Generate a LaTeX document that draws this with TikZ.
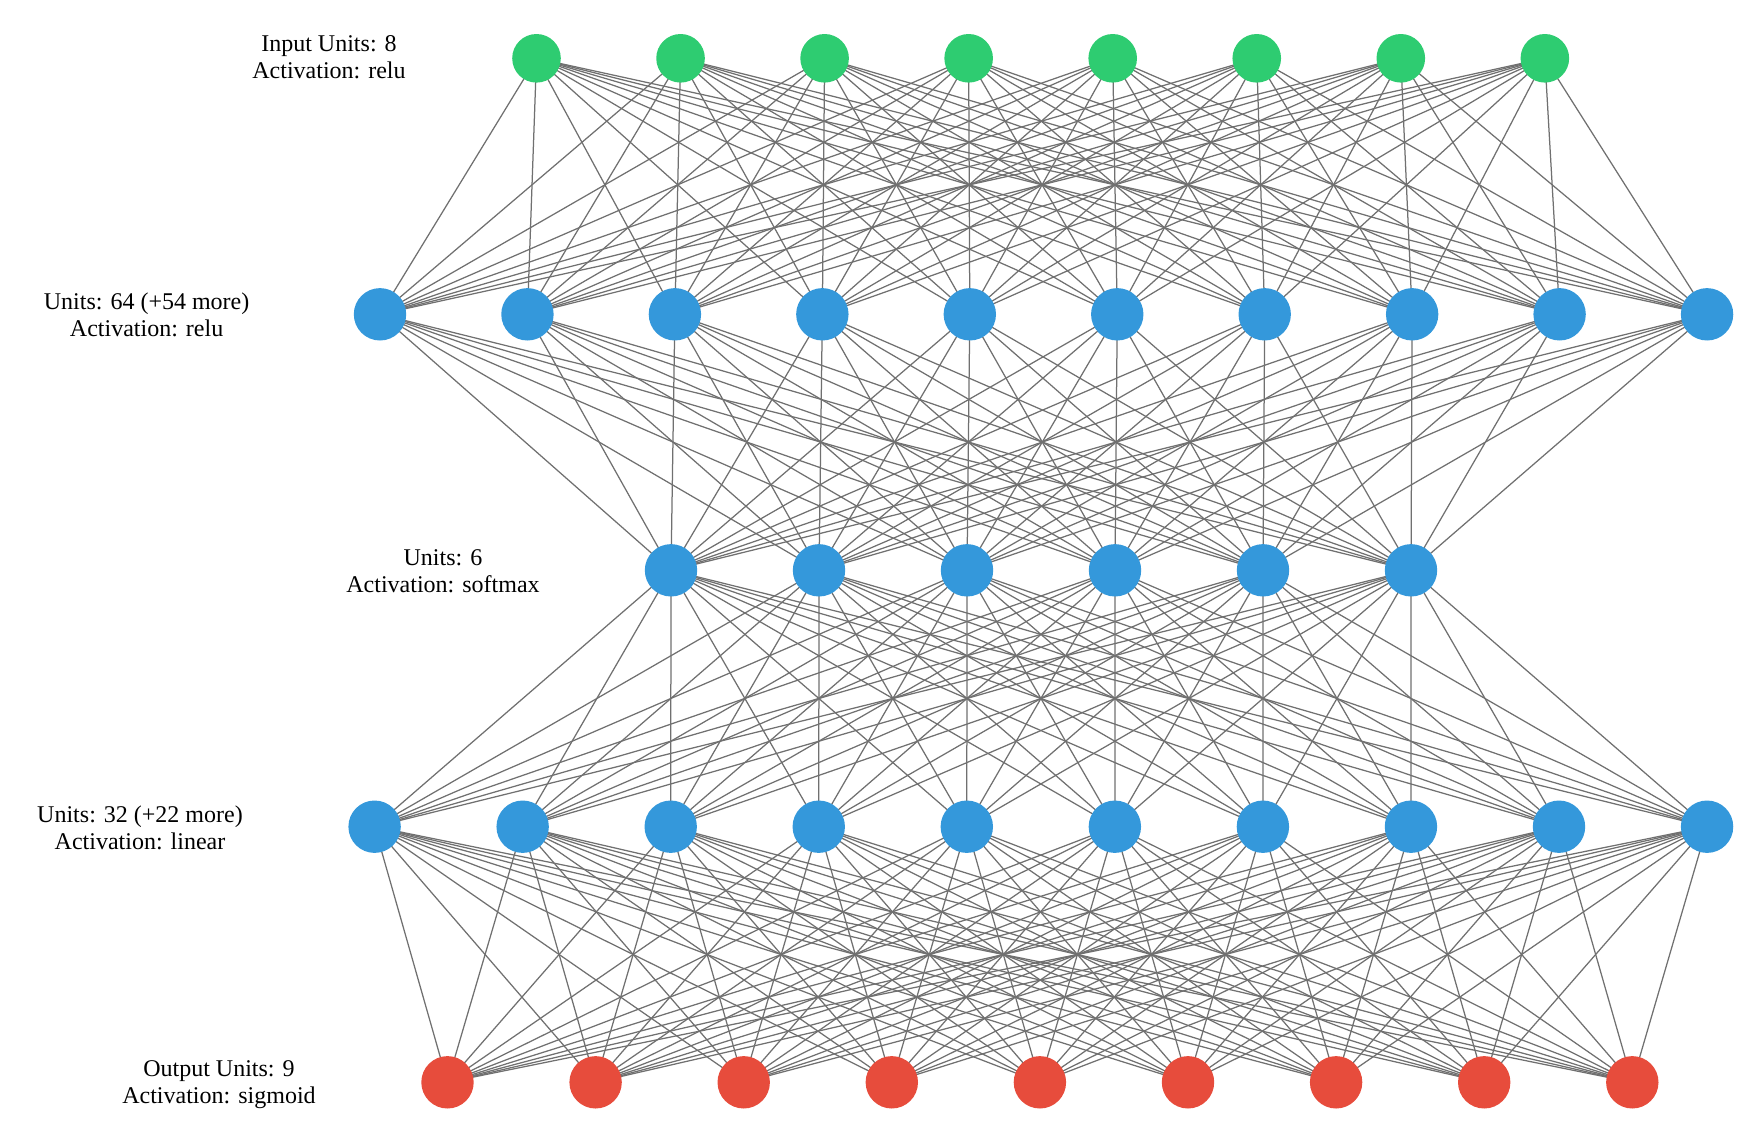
\documentclass[tikz,border=0pt]{standalone}
\usepackage{fontspec}
\setmainfont{Liberation Serif}
\usetikzlibrary{backgrounds}

\definecolor{inpgreen}{HTML}{2ECC71}
\definecolor{hidblue}{HTML}{3498DB}
\definecolor{outred}{HTML}{E74C3C}
\definecolor{linkgray}{RGB}{112,112,112}

\begin{document}
\begin{tikzpicture}[x=1pt,y=-1pt,
    unit/.style={circle,inner sep=0pt,minimum size=52.4pt},
    link/.style={draw=linkgray,line width=1.25pt},
    layerlabel/.style={align=center,font=\fontsize{24}{27}\selectfont}]
                \useasboundingbox (0,0) rectangle (1759,1141);
                % units of each layer
                \foreach \i in {1,...,8}
                    \node[unit,fill=inpgreen,minimum size=48.6pt] (inp\i) at ({536.5+144.05*(\i-1)},58.3) {};
                \foreach \i in {1,...,10}
                    \node[unit,fill=hidblue] (hida\i) at ({380+147.45*(\i-1)},314.3) {};
                \node[unit,fill=hidblue,minimum size=49pt] at (hida4.center) {};
                \foreach \i in {1,...,6}
                    \node[unit,fill=hidblue] (hidb\i) at ({671+148*(\i-1)},570.3) {};
                \foreach \i in {1,...,10}
                    \node[unit,fill=hidblue] (hidc\i) at ({374.6+148.05*(\i-1)},826.7) {};
                \foreach \i in {1,...,9}
                    \node[unit,fill=outred] (out\i) at ({447.5+148.1*(\i-1)},1082.3) {};
                % connections
                \begin{scope}[on background layer]
                    \foreach \i in {1,...,8}
                        \foreach \j in {1,...,10}
                            \draw[link] (inp\i.center) -- (hida\j.center);
                    \foreach \i in {1,...,10}
                        \foreach \j in {1,...,6}
                            \draw[link] (hida\i.center) -- (hidb\j.center);
                    \foreach \i in {1,...,6}
                        \foreach \j in {1,...,10}
                            \draw[link] (hidb\i.center) -- (hidc\j.center);
                    \foreach \i in {1,...,10}
                        \foreach \j in {1,...,9}
                            \draw[link] (hidc\i.center) -- (out\j.center);
                \end{scope}
                % layer labels
                \node[layerlabel] (lblinp) at (329,57) {Input Units: 8\\Activation: relu};
                \node[layerlabel] (lblhida) at (146.6,315) {Units: 64 (+54 more)\\Activation: relu};
                \node[layerlabel] (lblhidb) at (443,571) {Units: 6\\Activation: softmax};
                \node[layerlabel] (lblhidc) at (140,828) {Units: 32 (+22 more)\\Activation: linear};
                \node[layerlabel] (lblout) at (219,1085) {Output Units: 9\\Activation: sigmoid};
            \end{tikzpicture}
\end{document}
